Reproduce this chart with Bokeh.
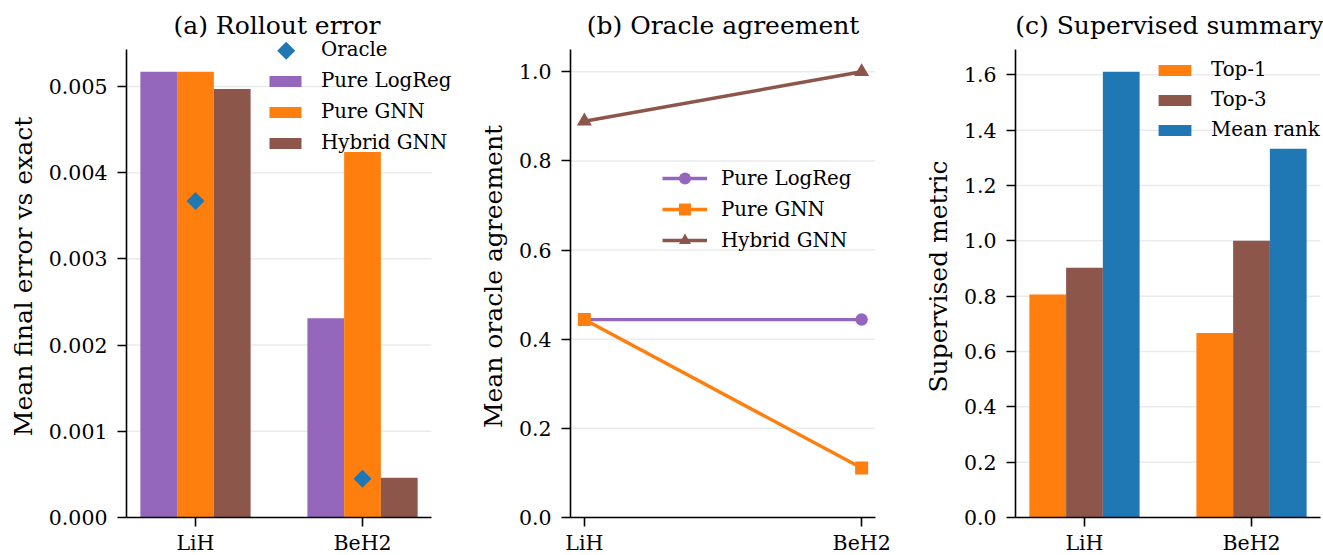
import math
from bokeh.plotting import figure
from bokeh.layouts import row
from bokeh.models import (Range1d, FixedTicker, PrintfTickFormatter, Legend,
                          LegendItem, ColumnDataSource)
from bokeh.transform import dodge
from bokeh.embed import file_html
from bokeh.resources import INLINE

# ---------------- data ----------------
categories = ["LiH", "BeH2"]

rollout_logreg = [0.00517, 0.00231]
rollout_gnn = [0.00517, 0.00424]
rollout_hybrid = [0.00497, 0.00046]
oracle_error = [0.00367, 0.00045]

agree_logreg = [0.444, 0.444]
agree_gnn = [0.444, 0.111]
agree_hybrid = [0.889, 1.0]

sup_top1 = [0.806, 0.667]
sup_top3 = [0.903, 1.0]
sup_mean_rank = [1.611, 1.333]

err_ticks = [0.0, 0.001, 0.002, 0.003, 0.004, 0.005]
agree_ticks = [0.0, 0.2, 0.4, 0.6, 0.8, 1.0]
sup_ticks = [0.0, 0.2, 0.4, 0.6, 0.8, 1.0, 1.2, 1.4, 1.6]

# ---------------- style ----------------
FONT = "DejaVu Serif"
PURPLE = "#9467bd"
ORANGE = "#ff7f0e"
BROWN = "#8c564b"
BLUE = "#1f77b4"
GRID = "#ebebeb"
TICK_FS = "20.5px"
LEG_FS = "19.8px"
TITLE_FS = "25px"
AXIS_W = 305          # visible axis length (px)
AXIS_H = 468          # visible axis height (px)
TOP = 35              # frame top
EXTRA_TOP = 49 - TOP  # frame extends above the y-axis top (room for legend)
BAR_W = 0.22

xi = list(range(len(categories)))
overrides = {i: c for i, c in enumerate(categories)}


def make_fig(title, ylabel, y_top, ticks, fmt, x_start, x_stop, left, frame_w,
             right, title_offset=None):
    sx = AXIS_W / (x_stop - x_start)
    x_view_end = x_start + frame_w / sx
    frame_h = AXIS_H + EXTRA_TOP
    y_view_end = y_top * frame_h / AXIS_H
    p = figure(frame_width=frame_w, frame_height=frame_h,
               x_range=Range1d(x_start, x_view_end),
               y_range=Range1d(0, y_view_end),
               output_backend="svg", toolbar_location=None,
               min_border_left=left, min_border_right=right,
               min_border_top=TOP, min_border_bottom=38)
    p.title.text = title
    p.title.text_font = FONT
    p.title.text_font_size = TITLE_FS
    p.title.text_font_style = "normal"
    p.title.text_color = "black"
    p.title.standoff = -8
    if title_offset is None:
        p.title.align = "center"
    else:
        p.title.align = "left"
        p.title.offset = title_offset
    p.outline_line_color = None
    p.background_fill_color = "white"
    p.border_fill_color = "white"
    p.xgrid.visible = False
    p.ygrid.visible = False
    # horizontal grid lines, limited to the axis extent
    p.segment(x0=[x_start] * len(ticks), x1=[x_stop] * len(ticks),
              y0=ticks, y1=ticks, line_color=GRID, line_width=1.5)
    p.yaxis.ticker = FixedTicker(ticks=ticks)
    p.yaxis.formatter = PrintfTickFormatter(format=fmt)
    p.yaxis.bounds = (0, y_top)
    p.xaxis.ticker = FixedTicker(ticks=xi)
    p.xaxis.major_label_overrides = overrides
    p.xaxis.bounds = (x_start, x_stop)
    p.yaxis.axis_label = ylabel
    for ax in (p.xaxis, p.yaxis):
        ax.axis_line_width = 1.6
        ax.axis_line_color = "black"
        ax.major_tick_line_width = 1.6
        ax.major_tick_line_color = "black"
        ax.major_tick_out = 9
        ax.major_tick_in = 0
        ax.minor_tick_line_color = None
        ax.major_label_text_font = FONT
        ax.major_label_text_font_size = TICK_FS
        ax.major_label_text_color = "black"
        ax.axis_label_text_font = FONT
        ax.axis_label_text_font_size = TITLE_FS
        ax.axis_label_text_font_style = "normal"
        ax.axis_label_text_color = "black"
    p.yaxis.major_label_standoff = 10
    p.xaxis.major_label_standoff = 4
    p.yaxis.axis_label_standoff = 8
    return p


def style_legend(lg, gw, gh, standoff, spacing):
    lg.label_text_font = FONT
    lg.label_text_font_size = LEG_FS
    lg.label_text_color = "black"
    lg.glyph_width = gw
    lg.glyph_height = gh
    lg.label_standoff = standoff
    lg.spacing = spacing
    lg.padding = 0
    lg.margin = 0
    lg.border_line_color = None
    lg.background_fill_alpha = 0
    lg.label_height = 20


# ---------------- (a) Rollout error ----------------
src_a = ColumnDataSource(dict(xi=xi, logreg=rollout_logreg, gnn=rollout_gnn,
                              hybrid=rollout_hybrid, oracle=oracle_error))
pa = make_fig("(a) Rollout error", "Mean final error vs exact",
              max(rollout_logreg + rollout_gnn) * 1.05, err_ticks, "%.3f",
              -0.413, 1.413, 126, 334, 0, title_offset=47)
ra1 = pa.vbar(x=dodge("xi", -BAR_W, range=pa.x_range), top="logreg", width=BAR_W,
              source=src_a, color=PURPLE, line_color=None)
ra2 = pa.vbar(x=dodge("xi", 0, range=pa.x_range), top="gnn", width=BAR_W,
              source=src_a, color=ORANGE, line_color=None)
ra3 = pa.vbar(x=dodge("xi", BAR_W, range=pa.x_range), top="hybrid", width=BAR_W,
              source=src_a, color=BROWN, line_color=None)
ro = pa.scatter(x="xi", y="oracle", source=src_a, marker="square",
                angle=math.pi / 4, size=12.7, color=BLUE, line_color=None)
# invisible stand-in so the legend row carries the label only
ro_leg = pa.scatter(x="xi", y="oracle", source=src_a, marker="square",
                    size=1, fill_alpha=0, line_alpha=0)

# legend key for the oracle (diamond), placed in frame pixel space
pa.extra_x_ranges = {"px": Range1d(0, 334)}
pa.extra_y_ranges = {"py": Range1d(0, AXIS_H + EXTRA_TOP)}
key_x = [159.7]
key_y = [466.8]
pa.scatter(x=key_x, y=key_y, x_range_name="px", y_range_name="py",
           marker="square", angle=math.pi / 4, size=12.7, color=BLUE,
           line_color=None)

lg_a = Legend(items=[LegendItem(label="Oracle", renderers=[ro_leg]),
                     LegendItem(label="Pure LogReg", renderers=[ra1]),
                     LegendItem(label="Pure GNN", renderers=[ra2]),
                     LegendItem(label="Hybrid GNN", renderers=[ra3])],
              location=(139, 363))
style_legend(lg_a, 40, 14, 16, 8)
pa.add_layout(lg_a, "center")

# ---------------- (b) Oracle agreement ----------------
src_b = ColumnDataSource(dict(xi=xi, logreg=agree_logreg, gnn=agree_gnn,
                              hybrid=agree_hybrid))
pb = make_fig("(b) Oracle agreement", "Mean oracle agreement",
              1.05, agree_ticks, "%.1f", -0.05, 1.05, 110, 305, 25)
lb1 = pb.line(x="xi", y="logreg", source=src_b, color=PURPLE, line_width=3.4)
mb1 = pb.scatter(x="xi", y="logreg", source=src_b, marker="circle", size=12.5,
                 color=PURPLE, line_color=None)
lb2 = pb.line(x="xi", y="gnn", source=src_b, color=ORANGE, line_width=3.4)
mb2 = pb.scatter(x="xi", y="gnn", source=src_b, marker="square", size=13,
                 color=ORANGE, line_color=None)
lb3 = pb.line(x="xi", y="hybrid", source=src_b, color=BROWN, line_width=3.4)
mb3 = pb.scatter(x="xi", y="hybrid", source=src_b, marker="triangle", size=15,
                 color=BROWN, line_color=None)
lg_b = Legend(items=[LegendItem(label="Pure LogReg", renderers=[lb1, mb1]),
                     LegendItem(label="Pure GNN", renderers=[lb2, mb2]),
                     LegendItem(label="Hybrid GNN", renderers=[lb3, mb3])],
              location=(92, 262))
style_legend(lg_b, 45, 30, 14, 1)
pb.add_layout(lg_b, "center")

# ---------------- (c) Supervised summary ----------------
src_c = ColumnDataSource(dict(xi=xi, top1=sup_top1, top3=sup_top3,
                              rank=sup_mean_rank))
pc = make_fig("(c) Supervised summary", "Supervised metric",
              max(sup_mean_rank) * 1.05, sup_ticks, "%.1f",
              -0.413, 1.413, 115, 308, 0)
rc1 = pc.vbar(x=dodge("xi", -BAR_W, range=pc.x_range), top="top1", width=BAR_W,
              source=src_c, color=ORANGE, line_color=None)
rc2 = pc.vbar(x=dodge("xi", 0, range=pc.x_range), top="top3", width=BAR_W,
              source=src_c, color=BROWN, line_color=None)
rc3 = pc.vbar(x=dodge("xi", BAR_W, range=pc.x_range), top="rank", width=BAR_W,
              source=src_c, color=BLUE, line_color=None)
lg_c = Legend(items=[LegendItem(label="Top-1", renderers=[rc1]),
                     LegendItem(label="Top-3", renderers=[rc2]),
                     LegendItem(label="Mean rank", renderers=[rc3])],
              location=(139, 376))
style_legend(lg_c, 41, 14, 16, 7)
pc.add_layout(lg_c, "center")

layout = row(pa, pb, pc, spacing=0)
open("out.html", "w").write(file_html(layout, INLINE))
